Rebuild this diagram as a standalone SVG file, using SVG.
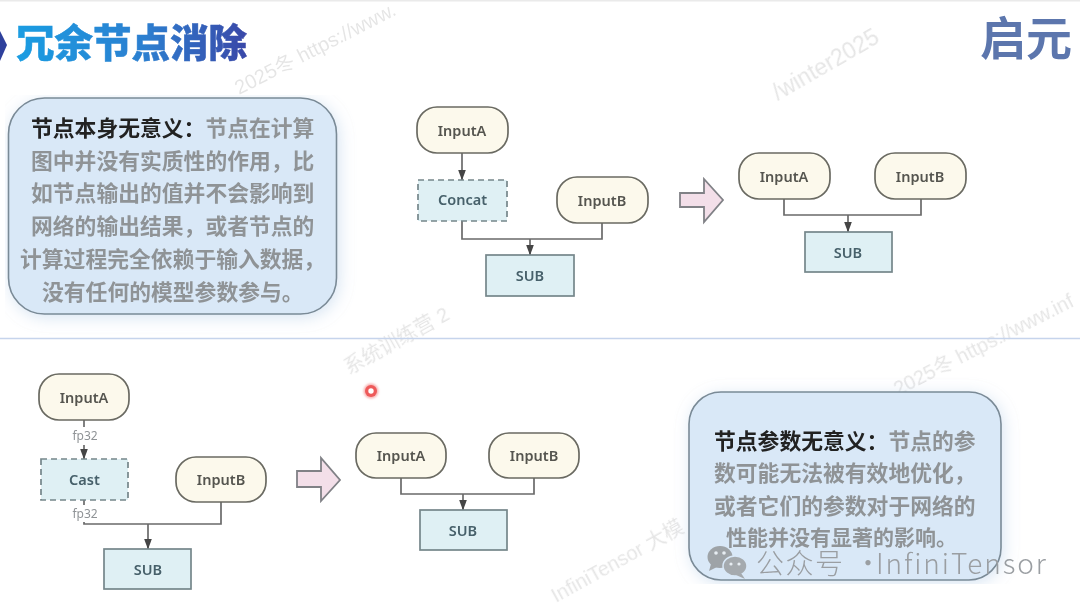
<svg xmlns="http://www.w3.org/2000/svg" width="1080" height="606" viewBox="0 0 1080 606">
<style>
.soft{filter:url(#soft)}
.wm{font-family:"Liberation Sans","Noto Sans CJK SC",sans-serif;font-size:20px;fill:#000;opacity:.1}
.panel{fill:#d9e8f7;stroke:#7a8a96;stroke-width:1.600;filter:url(#shadow)}
.body{font-family:"Noto Sans CJK SC",sans-serif;font-size:21.8px;font-weight:700;fill:#8f9396}
.lead{fill:#222}
.term{fill:#fcf9ec;stroke:#6a6a62;stroke-width:1.700}
.op{fill:#dff0f4;stroke:#75868a;stroke-width:1.700}
.dash{stroke-dasharray:6 4}
.lbl{font-family:"Noto Sans","Noto Sans CJK SC",sans-serif;font-size:14.5px;font-weight:600;fill:#55554f;text-anchor:middle}
.oplbl{fill:#46606a}
.edge{fill:none;stroke:#6a6a6a;stroke-width:1.700}
.tag{font-family:"Noto Sans",sans-serif;font-size:12px;fill:#8f9396;text-anchor:middle}
.big{fill:#f3dfe9;stroke:#808186;stroke-width:1.800}
.mark{font-family:"Noto Sans CJK SC",sans-serif;font-size:28px;font-weight:300;fill:#9a9ea2}
</style>
<defs>
<filter id="soft" filterUnits="userSpaceOnUse" x="0" y="0" width="1080" height="606"><feGaussianBlur stdDeviation="0.45"/></filter>
<filter id="shadow" x="-12%" y="-15%" width="124%" height="130%"><feDropShadow dx="2" dy="3" stdDeviation="8" flood-color="#9dbde0" flood-opacity=".4"/></filter>
<filter id="glow" x="-80%" y="-80%" width="260%" height="260%"><feGaussianBlur stdDeviation="1"/></filter>
<linearGradient id="titleFill" x1="0" x2="1" y1="0" y2="0"><stop offset="0" stop-color="#1a9de2"/><stop offset=".55" stop-color="#2c7fd0"/><stop offset="1" stop-color="#3a48a8"/></linearGradient>
<marker id="tip" viewBox="0 0 11 8" refX="10.500" refY="4" markerWidth="11" markerHeight="8" markerUnits="userSpaceOnUse" orient="auto"><path d="M0 0L11 4L0 8Z" fill="#444"/></marker>
</defs>
<rect width="1080" height="606" fill="#fff"/>
<rect width="1080" height="1.5" fill="#eaeaea"/>
<g id="watermarks" class="soft">
<text class="wm" transform="translate(239,95) rotate(-27)">2025冬 https://www.</text>
<text class="wm" style="font-size:23px" transform="translate(778,101) rotate(-30)">/winter2025</text>
<text class="wm" transform="translate(349,375) rotate(-29)">系统训练营 2</text>
<text class="wm" transform="translate(898,396) rotate(-27)">2025冬 https://www.inf</text>
<text class="wm" transform="translate(556,603) rotate(-29)">InfiniTensor 大模</text>
</g>
<line id="divider" x1="0" y1="338.500" x2="1080" y2="338.500" stroke="#c6d4ec" stroke-width="1.600"/>
<g id="title" class="soft">
<polygon points="0,31 7,45 0,61" fill="#2f3f9c"/>
<text x="16" y="57" font-family="'Noto Sans CJK SC',sans-serif" font-size="38.500" font-weight="900" fill="url(#titleFill)" stroke="url(#titleFill)" stroke-width=".5">冗余节点消除</text>
</g>
<g id="logo" class="soft">
<text x="980" y="55" font-family="'Noto Sans CJK SC',sans-serif" font-size="46" font-weight="700" fill="#5b76ad">启元</text>
</g>
<g id="connectors" class="soft">
<path class="edge" d="M462 153V180" marker-end="url(#tip)"/>
<path class="edge" d="M462 221V239H602V223"/>
<path class="edge" d="M530 239V255" marker-end="url(#tip)"/>
<path class="edge" d="M784 199V215H921V199"/>
<path class="edge" d="M848 215V232" marker-end="url(#tip)"/>
<path class="edge" d="M84 420V427"/>
<path class="edge" d="M84 445V459" marker-end="url(#tip)"/>
<path class="edge" d="M84 500V505"/>
<path class="edge" d="M84 522V524H221V502"/>
<path class="edge" d="M148 524V549" marker-end="url(#tip)"/>
<path class="edge" d="M401 478V494H534V478"/>
<path class="edge" d="M463 494V510" marker-end="url(#tip)"/>
</g>
<g id="panel-top" class="soft">
<rect class="panel" x="8.500" y="98" width="328" height="216" rx="36"/>
<text class="body" x="31" y="136"><tspan class="lead">节点本身无意义：</tspan>节点在计算</text>
<text class="body" x="31" y="169">图中并没有实质性的作用，比</text>
<text class="body" x="31" y="201">如节点输出的值并不会影响到</text>
<text class="body" x="31" y="234">网络的输出结果，或者节点的</text>
<text class="body" x="20" y="267">计算过程完全依赖于输入数据，</text>
<text class="body" x="42" y="300">没有任何的模型参数参与。</text>
</g>
<g id="panel-bottom" class="soft">
<rect class="panel" x="689" y="392" width="312" height="188" rx="32"/>
<text class="body" x="714" y="449"><tspan class="lead">节点参数无意义：</tspan>节点的参</text>
<text class="body" x="714" y="481">数可能无法被有效地优化，</text>
<text class="body" x="714" y="514">或者它们的参数对于网络的</text>
<text class="body" style="font-size:21px" x="726" y="545">性能并没有显著的影响。</text>
</g>
<g id="top-inputa" class="soft"><rect class="term" x="417" y="107" width="91" height="46" rx="20"/><text class="lbl" x="462" y="136">InputA</text></g>
<g id="top-concat" class="soft"><rect class="op dash" x="418" y="180" width="89" height="41"/><text class="lbl oplbl" x="462.500" y="205">Concat</text></g>
<g id="top-inputb" class="soft"><rect class="term" x="557" y="177" width="91" height="46" rx="20"/><text class="lbl" x="602" y="206">InputB</text></g>
<g id="top-sub" class="soft"><rect class="op" x="486" y="255" width="88" height="41"/><text class="lbl oplbl" x="530" y="281">SUB</text></g>
<g id="top-arrow" class="soft"><polygon class="big" points="680,193 704,193 704,179 723,200 704,222 704,207 680,207"/></g>
<g id="top-result-inputa" class="soft"><rect class="term" x="739" y="153" width="91" height="46" rx="20"/><text class="lbl" x="784" y="182">InputA</text></g>
<g id="top-result-inputb" class="soft"><rect class="term" x="875" y="153" width="91" height="46" rx="20"/><text class="lbl" x="920" y="182">InputB</text></g>
<g id="top-result-sub" class="soft"><rect class="op" x="805" y="232" width="87" height="40"/><text class="lbl oplbl" x="848" y="258">SUB</text></g>
<g id="bottom-inputa" class="soft"><rect class="term" x="39" y="374" width="90" height="46" rx="20"/><text class="lbl" x="84" y="403">InputA</text></g>
<g id="bottom-cast" class="soft"><rect class="op dash" x="41" y="459" width="87" height="41"/><text class="lbl oplbl" x="84.500" y="485">Cast</text></g>
<g id="bottom-inputb" class="soft"><rect class="term" x="176" y="457" width="90" height="45" rx="20"/><text class="lbl" x="221" y="485">InputB</text></g>
<g id="bottom-sub" class="soft"><rect class="op" x="104" y="549" width="87" height="40"/><text class="lbl oplbl" x="148" y="575">SUB</text></g>
<g id="edge-labels" class="soft"><text class="tag" x="85" y="440">fp32</text><text class="tag" x="85" y="518">fp32</text></g>
<g id="bottom-arrow" class="soft"><polygon class="big" points="297,471 321,471 321,458 340,480 321,501 321,487 297,487"/></g>
<g id="bottom-result-inputa" class="soft"><rect class="term" x="356" y="433" width="90" height="45" rx="20"/><text class="lbl" x="401" y="461">InputA</text></g>
<g id="bottom-result-inputb" class="soft"><rect class="term" x="489" y="433" width="90" height="45" rx="20"/><text class="lbl" x="534" y="461">InputB</text></g>
<g id="bottom-result-sub" class="soft"><rect class="op" x="420" y="510" width="87" height="40"/><text class="lbl oplbl" x="463" y="536">SUB</text></g>
<g id="pointer"><circle cx="371" cy="391" r="7.500" fill="#f7b0b0" filter="url(#glow)"/><circle cx="371" cy="391" r="6" fill="#ee5a5a"/><circle cx="371" cy="391" r="2.700" fill="#fff"/></g>
<g id="wechat-mark" class="soft">
<ellipse cx="720" cy="557" rx="12.500" ry="11" fill="#9ea3a7"/>
<path d="M711 564L709 571L717 567Z" fill="#9ea3a7"/>
<ellipse cx="735" cy="566" rx="12" ry="10" fill="#a5aaae" stroke="#d9e8f7" stroke-width="1.500"/>
<path d="M741 573L745 579L736 575Z" fill="#a5aaae"/>
<circle cx="716" cy="553" r="1.800" fill="#e7edf2"/><circle cx="724" cy="553" r="1.800" fill="#e7edf2"/>
<circle cx="731" cy="564" r="1.600" fill="#e7edf2"/><circle cx="739" cy="564" r="1.600" fill="#e7edf2"/>
<text class="mark" y="574"><tspan x="756" letter-spacing="1.500">公众号</tspan><tspan x="854">·</tspan><tspan x="876" letter-spacing="1.900">InfiniTensor</tspan></text>
</g>
</svg>
